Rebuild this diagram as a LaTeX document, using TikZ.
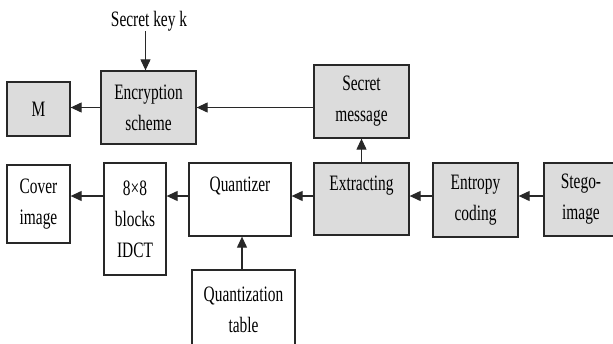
\documentclass[tikz,border=0pt]{standalone}
\usepackage{fontspec}
\setmainfont[FakeStretch=0.7]{Liberation Serif}
\usetikzlibrary{arrows.meta}
\definecolor{boxgrey}{RGB}{220,220,220}
\definecolor{edge}{RGB}{40,40,40}
\begin{document}
\begin{tikzpicture}[x=1pt,y=-1pt,
  every node/.style={font=\fontsize{22}{31}\selectfont, align=center, inner sep=0pt},
  blk/.style={draw=edge, line width=1.3pt, rectangle},
  gblk/.style={blk, fill=boxgrey},
  arr/.style={draw=edge, line width=1.1pt, -{Triangle[length=11pt,width=10pt]}}]
\clip (0,0) rectangle (613,343);
\fill[white] (0,0) rectangle (613,343);
% boxes: centre, size
\node[gblk, minimum width=63pt, minimum height=54pt] (m) at (38.5,109) {M};
\node[gblk, minimum width=95pt, minimum height=73pt] (enc) at (148.5,107.5) {Encryption\\scheme};
\node[gblk, minimum width=95pt, minimum height=73pt] (sm) at (361.5,101.5) {Secret\\message};
\node[gblk, minimum width=95pt, minimum height=72pt] (ext) at (361.5,199) {Extracting\\\phantom{X}};
\node[gblk, minimum width=85pt, minimum height=74pt] (ent) at (475.5,200) {Entropy\\coding};
\node[gblk, minimum width=74pt, minimum height=73pt] (stego) at (581,199.5) {Stego-\\image};
\node[blk, minimum width=102pt, minimum height=73pt] (qz) at (240,199.5) {Quantizer\\\phantom{X}};
\node[blk, minimum width=62pt, minimum height=112pt] (idct) at (135,219) {8×8\\blocks\\IDCT};
\node[blk, minimum width=63pt, minimum height=78pt] (cov) at (38.5,204) {Cover\\image};
\node[blk, minimum width=103pt, minimum height=80pt] (qt) at (243.5,310) {Quantization\\table};
\node (key) at (149,21) {Secret key k};
% connectors
\coordinate (row) at (0,196);
\draw[arr] (key.south -| enc.north) ++(-3,0) coordinate (ks) -- (ks |- enc.north);
\draw[arr] (sm.west |- enc.east) -- (enc.east);
\draw[arr] (enc.west) -- (m.east |- enc.west);
\draw[arr] (ext.north) -- (sm.south);
\draw[arr] (stego.west |- row) -- (ent.east |- row);
\draw[arr] (ent.west |- row) -- (ext.east |- row);
\draw[arr] (ext.west |- row) -- (qz.east |- row);
\draw[arr] (qz.west |- row) -- (idct.east |- row);
\draw[arr] (idct.west |- row) -- (cov.east |- row);
\draw[arr] (qt.north -| qz.south) ++(2,0) coordinate (qs) -- (qs |- qz.south);
\end{tikzpicture}
\end{document}
